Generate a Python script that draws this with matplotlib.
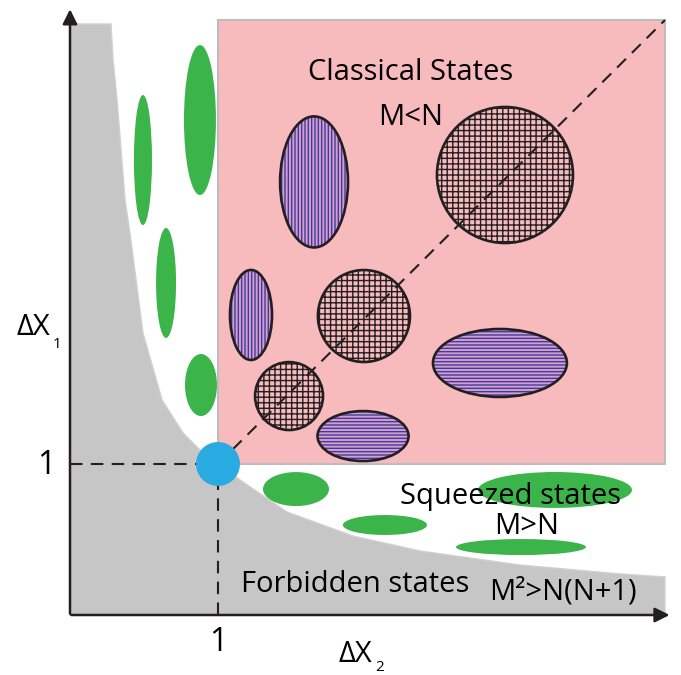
import numpy as np
import matplotlib
matplotlib.use("Agg")
from matplotlib import pyplot as plt
from matplotlib.patches import Ellipse, Rectangle, Polygon

plt.rcParams['font.family'] = ['Open Sans', 'DejaVu Sans']
plt.rcParams['hatch.linewidth'] = 1.0

# boundary of the forbidden region (dX1 * dX2 = 1)
bound_x = [0.277, 0.291, 0.318, 0.372, 0.405, 0.493, 0.622, 0.764, 0.912, 1.000,
           1.149, 1.466, 1.912, 2.365, 3.041, 3.716, 4.020]
bound_y = [3.914, 3.675, 3.411, 2.748, 2.530, 1.868, 1.424, 1.205, 1.060, 1.007,
           0.894, 0.682, 0.523, 0.424, 0.331, 0.272, 0.252]

# squeezed states (green)
green_x = [0.493, 0.878, 0.649, 0.885, 1.527, 2.128, 3.277, 3.047]
green_y = [3.013, 3.278, 2.199, 1.523, 0.834, 0.596, 0.828, 0.450]
green_w = [0.122, 0.216, 0.135, 0.216, 0.446, 0.568, 1.040, 0.878]
green_h = [0.861, 0.993, 0.728, 0.411, 0.225, 0.132, 0.238, 0.106]

# classical states, vertical stripes
vert_x = [1.649, 1.223]
vert_y = [2.868, 1.987]
vert_w = [0.459, 0.284]
vert_h = [0.868, 0.596]

# classical states, horizontal stripes
horz_x = [2.905, 1.980]
horz_y = [1.669, 1.185]
horz_w = [0.905, 0.615]
horz_h = [0.450, 0.331]

# classical states on the diagonal, cross-hatched
grid_x = [2.939, 1.986, 1.480]
grid_y = [2.914, 1.980, 1.450]
grid_w = [0.919, 0.622, 0.459]
grid_h = [0.901, 0.609, 0.450]

GRAY = '#c6c6c6'
PINK = '#f7babd'
GREEN = '#3bb44a'
BLUE = '#29abe2'
INK = '#231f20'

fig = plt.figure(figsize=(6.81, 6.75), dpi=100)
ax = fig.add_axes([0, 0, 1, 1])
ax.set_xlim(-70 / 148, 611 / 148)
ax.set_ylim(-60 / 151, 615 / 151)
ax.axis('off')

# forbidden region
poly = [(0, 0), (0, bound_y[0])] + list(zip(bound_x, bound_y)) + [(bound_x[-1], 0)]
ax.add_patch(Polygon(poly, closed=True, facecolor=GRAY, edgecolor='#d0d0d0', lw=1, zorder=1))

# classical region
ax.add_patch(Rectangle((1.0, 1.0), 3.02, 2.94, facecolor=PINK, edgecolor='#bdbdbd', lw=1.5, zorder=2))

for x, y, w, h in zip(green_x, green_y, green_w, green_h):
    ax.add_patch(Ellipse((x, y), w, h, facecolor=GREEN, edgecolor='none', zorder=3))

def hatched(x, y, w, h, face, hatch, hcolor):
    ax.add_patch(Ellipse((x, y), w, h, facecolor=face, edgecolor=hcolor, lw=0, hatch=hatch, zorder=3))
    ax.add_patch(Ellipse((x, y), w, h, fill=False, edgecolor=INK, lw=1.9, zorder=5))

for x, y, w, h in zip(vert_x, vert_y, vert_w, vert_h):
    hatched(x, y, w, h, '#d99ccc', '|||||', '#3a3f9e')
for x, y, w, h in zip(horz_x, horz_y, horz_w, horz_h):
    hatched(x, y, w, h, '#d99ccc', '-----', '#3a3f9e')
for x, y, w, h in zip(grid_x, grid_y, grid_w, grid_h):
    hatched(x, y, w, h, PINK, '+++', INK)

# diagonal and guide lines
ax.plot([1.0, 4.02], [1.0, 3.94], color=INK, lw=1.5, ls=(0, (6, 4)), zorder=4)
ax.plot([0, 1.0], [1.0, 1.0], color=INK, lw=1.5, ls=(0, (6, 4)), zorder=4)
ax.plot([1.0, 1.0], [0, 1.0], color=INK, lw=1.5, ls=(0, (6, 4)), zorder=4)

# vacuum state
ax.add_patch(Ellipse((1.0, 1.0), 0.297, 0.291, facecolor=BLUE, edgecolor='none', zorder=6))

# axes with arrows
ax.annotate('', xy=(0, 4.03), xytext=(0, -0.01),
            arrowprops=dict(arrowstyle='-|>', color=INK, lw=1.8, mutation_scale=22), zorder=7)
ax.annotate('', xy=(4.07, 0), xytext=(-0.01, 0),
            arrowprops=dict(arrowstyle='-|>', color=INK, lw=1.8, mutation_scale=22), zorder=7)

fs = 21
ax.text(2.304, 3.596, 'Classical States', fontsize=fs, ha='center', va='center', zorder=8)
ax.text(2.304, 3.298, 'M<N', fontsize=fs, ha='center', va='center', zorder=8)
ax.text(2.973, 0.788, 'Squeezed states', fontsize=fs, ha='center', va='center', zorder=8)
ax.text(3.088, 0.583, 'M>N', fontsize=fs, ha='center', va='center', zorder=8)
ax.text(1.926, 0.205, 'Forbidden states', fontsize=fs, ha='center', va='center', zorder=8)
ax.text(3.331, 0.152, 'M²>N(N+1)', fontsize=fs, ha='center', va='center', zorder=8)

ax.text(-0.250, 1.901, 'ΔX', fontsize=fs, ha='center', va='center')
ax.text(-0.085, 1.790, '1', fontsize=11, ha='center', va='center')
ax.text(1.929, -0.262, 'ΔX', fontsize=fs, ha='center', va='center')
ax.text(2.09, -0.345, '2', fontsize=11, ha='center', va='center')

ax.text(1.0, -0.185, '1', fontsize=23, ha='center', va='center')
ax.text(-0.162, 0.987, '1', fontsize=23, ha='center', va='center')

plt.savefig('out.png', dpi=100)
